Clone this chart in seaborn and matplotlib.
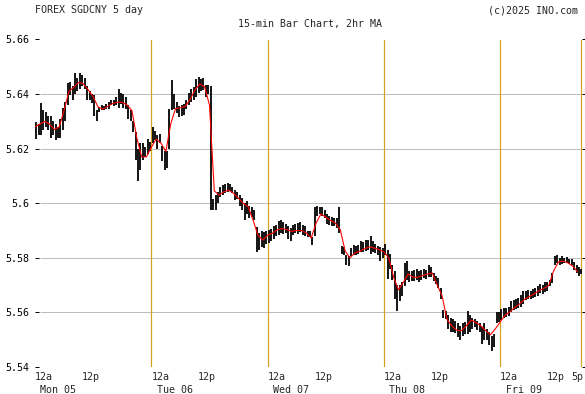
import numpy as np
import pandas as pd
import matplotlib
matplotlib.use("Agg")
import matplotlib.pyplot as plt
import seaborn as sns

# ---------------------------------------------------------------------------
# data: 30-min bars (two per hour), Mon 05 00:00 -> Fri 09 ~17:00
# ---------------------------------------------------------------------------
bar_low = [
    # Mon
    5.6237, 5.6250, 5.6250, 5.6270, 5.6280, 5.6270, 5.6240, 5.6250,
    5.6230, 5.6240, 5.6240, 5.6270, 5.6300, 5.6360, 5.6396, 5.6380,
    5.6400, 5.6410, 5.6420, 5.6430, 5.6420, 5.6380, 5.6380, 5.6366,
    5.6320, 5.6300, 5.6335, 5.6340, 5.6340, 5.6345, 5.6345, 5.6360,
    5.6355, 5.6360, 5.6350, 5.6365, 5.6350, 5.6345, 5.6310, 5.6300,
    5.6260, 5.6157, 5.6083, 5.6120, 5.6157, 5.6170, 5.6180, 5.6190,
    # Tue
    5.6220, 5.6230, 5.6200, 5.6220, 5.6155, 5.6120, 5.6130, 5.6200,
    5.6340, 5.6345, 5.6330, 5.6315, 5.6320, 5.6325, 5.6345, 5.6360,
    5.6370, 5.6380, 5.6390, 5.6405, 5.6410, 5.6415, 5.6390, 5.6400,
    5.5975, 5.5975, 5.5975, 5.6000, 5.6024, 5.6030, 5.6036, 5.6040,
    5.6045, 5.6036, 5.6011, 5.6015, 5.5990, 5.5975, 5.5938, 5.5960,
    5.5945, 5.5950, 5.5938, 5.5822, 5.5828, 5.5840, 5.5835, 5.5850,
    # Wed
    5.5855, 5.5860, 5.5870, 5.5880, 5.5885, 5.5890, 5.5888, 5.5890,
    5.5870, 5.5860, 5.5885, 5.5890, 5.5888, 5.5895, 5.5885, 5.5880,
    5.5875, 5.5878, 5.5848, 5.5880, 5.5955, 5.5960, 5.5955, 5.5945,
    5.5925, 5.5920, 5.5915, 5.5918, 5.5910, 5.5891, 5.5815, 5.5812,
    5.5775, 5.5770, 5.5806, 5.5810, 5.5812, 5.5815, 5.5820, 5.5822,
    5.5825, 5.5828, 5.5815, 5.5822, 5.5818, 5.5812, 5.5790, 5.5800,
    # Thu
    5.5810, 5.5721, 5.5760, 5.5717, 5.5650, 5.5606, 5.5640, 5.5660,
    5.5698, 5.5720, 5.5710, 5.5715, 5.5715, 5.5720, 5.5712, 5.5720,
    5.5725, 5.5722, 5.5730, 5.5728, 5.5715, 5.5705, 5.5690, 5.5650,
    5.5580, 5.5575, 5.5540, 5.5530, 5.5530, 5.5525, 5.5510, 5.5500,
    5.5515, 5.5520, 5.5520, 5.5530, 5.5540, 5.5545, 5.5535, 5.5530,
    5.5483, 5.5500, 5.5500, 5.5480, 5.5459, 5.5475, 5.5560, 5.5565,
    # Fri
    5.5572, 5.5578, 5.5584, 5.5588, 5.5600, 5.5609, 5.5612, 5.5615,
    5.5620, 5.5630, 5.5646, 5.5650, 5.5648, 5.5652, 5.5655, 5.5660,
    5.5670, 5.5668, 5.5675, 5.5680, 5.5695, 5.5707, 5.5775, 5.5780,
    5.5775, 5.5778, 5.5780, 5.5782, 5.5778, 5.5775, 5.5755, 5.5745,
    5.5735, 5.5740,
]

bar_high = [
    # Mon
    5.6298, 5.6290, 5.6366, 5.6340, 5.6335, 5.6320, 5.6320, 5.6300,
    5.6290, 5.6280, 5.6310, 5.6350, 5.6370, 5.6440, 5.6445, 5.6430,
    5.6476, 5.6460, 5.6476, 5.6470, 5.6460, 5.6430, 5.6410, 5.6400,
    5.6395, 5.6340, 5.6353, 5.6360, 5.6355, 5.6365, 5.6370, 5.6380,
    5.6380, 5.6390, 5.6420, 5.6405, 5.6400, 5.6390, 5.6360, 5.6340,
    5.6300, 5.6260, 5.6200, 5.6220, 5.6220, 5.6206, 5.6237, 5.6225,
    # Tue
    5.6280, 5.6265, 5.6250, 5.6255, 5.6210, 5.6190, 5.6190, 5.6345,
    5.6451, 5.6400, 5.6370, 5.6355, 5.6360, 5.6365, 5.6380, 5.6405,
    5.6420, 5.6425, 5.6455, 5.6464, 5.6455, 5.6460, 5.6435, 5.6433,
    5.6430, 5.6015, 5.6030, 5.6042, 5.6060, 5.6066, 5.6072, 5.6075,
    5.6070, 5.6060, 5.6048, 5.6040, 5.6030, 5.6018, 5.6000, 5.6010,
    5.5990, 5.5985, 5.5975, 5.5914, 5.5890, 5.5900, 5.5895, 5.5900,
    # Wed
    5.5901, 5.5905, 5.5915, 5.5920, 5.5935, 5.5939, 5.5930, 5.5925,
    5.5915, 5.5910, 5.5920, 5.5925, 5.5927, 5.5930, 5.5920, 5.5915,
    5.5900, 5.5900, 5.5875, 5.5988, 5.5990, 5.5985, 5.5985, 5.5975,
    5.5960, 5.5955, 5.5950, 5.5945, 5.5945, 5.5988, 5.5845, 5.5840,
    5.5812, 5.5806, 5.5835, 5.5848, 5.5845, 5.5848, 5.5860, 5.5858,
    5.5865, 5.5867, 5.5879, 5.5860, 5.5850, 5.5845, 5.5840, 5.5835,
    # Thu
    5.5850, 5.5830, 5.5815, 5.5772, 5.5750, 5.5700, 5.5700, 5.5710,
    5.5780, 5.5790, 5.5753, 5.5750, 5.5755, 5.5758, 5.5750, 5.5755,
    5.5760, 5.5755, 5.5772, 5.5765, 5.5745, 5.5735, 5.5725, 5.5690,
    5.5610, 5.5605, 5.5590, 5.5580, 5.5575, 5.5570, 5.5560, 5.5550,
    5.5560, 5.5565, 5.5606, 5.5590, 5.5580, 5.5575, 5.5570, 5.5560,
    5.5545, 5.5560, 5.5540, 5.5530, 5.5515, 5.5520, 5.5600, 5.5600,
    # Fri
    5.5612, 5.5615, 5.5618, 5.5621, 5.5640, 5.5645, 5.5650, 5.5652,
    5.5665, 5.5677, 5.5680, 5.5683, 5.5680, 5.5685, 5.5690, 5.5695,
    5.5705, 5.5700, 5.5710, 5.5712, 5.5720, 5.5744, 5.5806, 5.5810,
    5.5800, 5.5806, 5.5800, 5.5803, 5.5797, 5.5795, 5.5785, 5.5775,
    5.5765, 5.5760,
]

# 2hr moving average, one reading per hour
ma_2hr = [
    # Mon
    5.6280, 5.6290, 5.6300, 5.6290, 5.6270, 5.6280, 5.6340, 5.6410,
    5.6425, 5.6443, 5.6437, 5.6415, 5.6390, 5.6353, 5.6345, 5.6355,
    5.6365, 5.6370, 5.6370, 5.6360, 5.6340, 5.6240, 5.6170, 5.6170,
    # Tue
    5.6205, 5.6235, 5.6220, 5.6190, 5.6290, 5.6347, 5.6350, 5.6355,
    5.6380, 5.6415, 5.6437, 5.6427, 5.6360, 5.6045, 5.6030, 5.6042,
    5.6048, 5.6036, 5.6018, 5.5999, 5.5987, 5.5938, 5.5883, 5.5865,
    # Wed
    5.5883, 5.5890, 5.5903, 5.5907, 5.5903, 5.5897, 5.5900, 5.5900,
    5.5891, 5.5873, 5.5927, 5.5961, 5.5949, 5.5937, 5.5927, 5.5903,
    5.5825, 5.5800, 5.5818, 5.5824, 5.5833, 5.5840, 5.5836, 5.5830,
    # Thu
    5.5822, 5.5800, 5.5729, 5.5683, 5.5710, 5.5741, 5.5729, 5.5729,
    5.5735, 5.5741, 5.5744, 5.5700, 5.5661, 5.5575, 5.5551, 5.5535,
    5.5533, 5.5551, 5.5572, 5.5563, 5.5551, 5.5533, 5.5518, 5.5540,
    # Fri
    5.5565, 5.5590, 5.5602, 5.5618, 5.5631, 5.5648, 5.5658, 5.5668,
    5.5680, 5.5688, 5.5698, 5.5751, 5.5785, 5.5788, 5.5781, 5.5769,
    5.5748,
]

price_ticks = [5.54, 5.56, 5.58, 5.60, 5.62, 5.64, 5.66]
price_labels = ["5.54", "5.56", "5.58", "5.6", "5.62", "5.64", "5.66"]

day_start = [0, 24, 48, 72, 96]
day_names = ["Mon 05", "Tue 06", "Wed 07", "Thu 08", "Fri 09"]
time_ticks = [0, 12, 24, 36, 48, 60, 72, 84, 96, 108, 113]
time_labels = ["12a", "12p", "12a", "12p", "12a", "12p", "12a", "12p", "12a", "12p", "5p"]
last_bar = 112.75

bars = pd.DataFrame({"hour": np.arange(len(bar_low)) * 0.5 + 0.25,
                     "low": bar_low, "high": bar_high})
ma = pd.DataFrame({"hour": np.arange(len(ma_2hr)), "ma": ma_2hr})

# ---------------------------------------------------------------------------
sns.set_style("white")
plt.rcParams["font.family"] = ["DejaVu Sans Mono"]
FS = 7.2
px = 0.72  # one pixel in points at dpi 100

fig = plt.figure(figsize=(5.85, 3.94), dpi=100)
ax = fig.add_axes([35 / 585, 27 / 394, 551 / 585, 327.5 / 394])

# grid
ax.hlines(price_ticks, 1.0, 113, color="#bdbdbd", lw=1 * px, zorder=0)
for d in day_start[1:]:
    ax.axvline(d, color="#D9A21E", lw=1.2 * px, zorder=1)
ax.axvline(last_bar, color="#D9A21E", lw=1.2 * px, zorder=1)

# bars + moving average
ax.vlines(bars["hour"], bars["low"], bars["high"], color="black", lw=1.8 * px, zorder=2)
sns.lineplot(data=ma, x="hour", y="ma", color="red", lw=1.1 * px, ax=ax, zorder=3)

ax.set_xlim(0, 113.7)
ax.set_ylim(5.54, 5.66)
ax.set_xlabel("")
ax.set_ylabel("")
for s in ax.spines.values():
    s.set_visible(False)

ax.set_xticks([])
ax.set_yticks(price_ticks)
ax.set_yticklabels(price_labels)
ax.tick_params(axis="y", direction="in", length=4 * px, width=1 * px, color="black",
               left=True, right=True, pad=4, labelsize=FS, labelcolor="black")

# time axis text
xt = ax.get_xaxis_transform()
for h, lab in zip(time_ticks, time_labels):
    if lab == "12a":
        ax.text(h, -0.031, lab, transform=xt, ha="left", va="center", fontsize=FS)
    elif lab == "5p":
        ax.text(h + 0.2, -0.031, lab, transform=xt, ha="right", va="center", fontsize=FS)
    else:
        ax.text(h - 0.45, -0.031, lab, transform=xt, ha="center", va="center", fontsize=FS)
for h, lab in zip(day_start, day_names):
    ax.text(h + 1.1, -0.071, lab, transform=xt, ha="left", va="center", fontsize=FS)

# header
fig.text(35 / 585, 1 - 10.4 / 394, "FOREX SGDCNY 5 day", ha="left", va="center", fontsize=FS)
fig.text(578 / 585, 1 - 10.4 / 394, "(c)2025 INO.com", ha="right", va="center", fontsize=FS)
fig.text(309.5 / 585, 1 - 24.3 / 394, "15-min Bar Chart, 2hr MA", ha="center", va="center", fontsize=FS)

fig.savefig("out.png", dpi=100, facecolor="white")
